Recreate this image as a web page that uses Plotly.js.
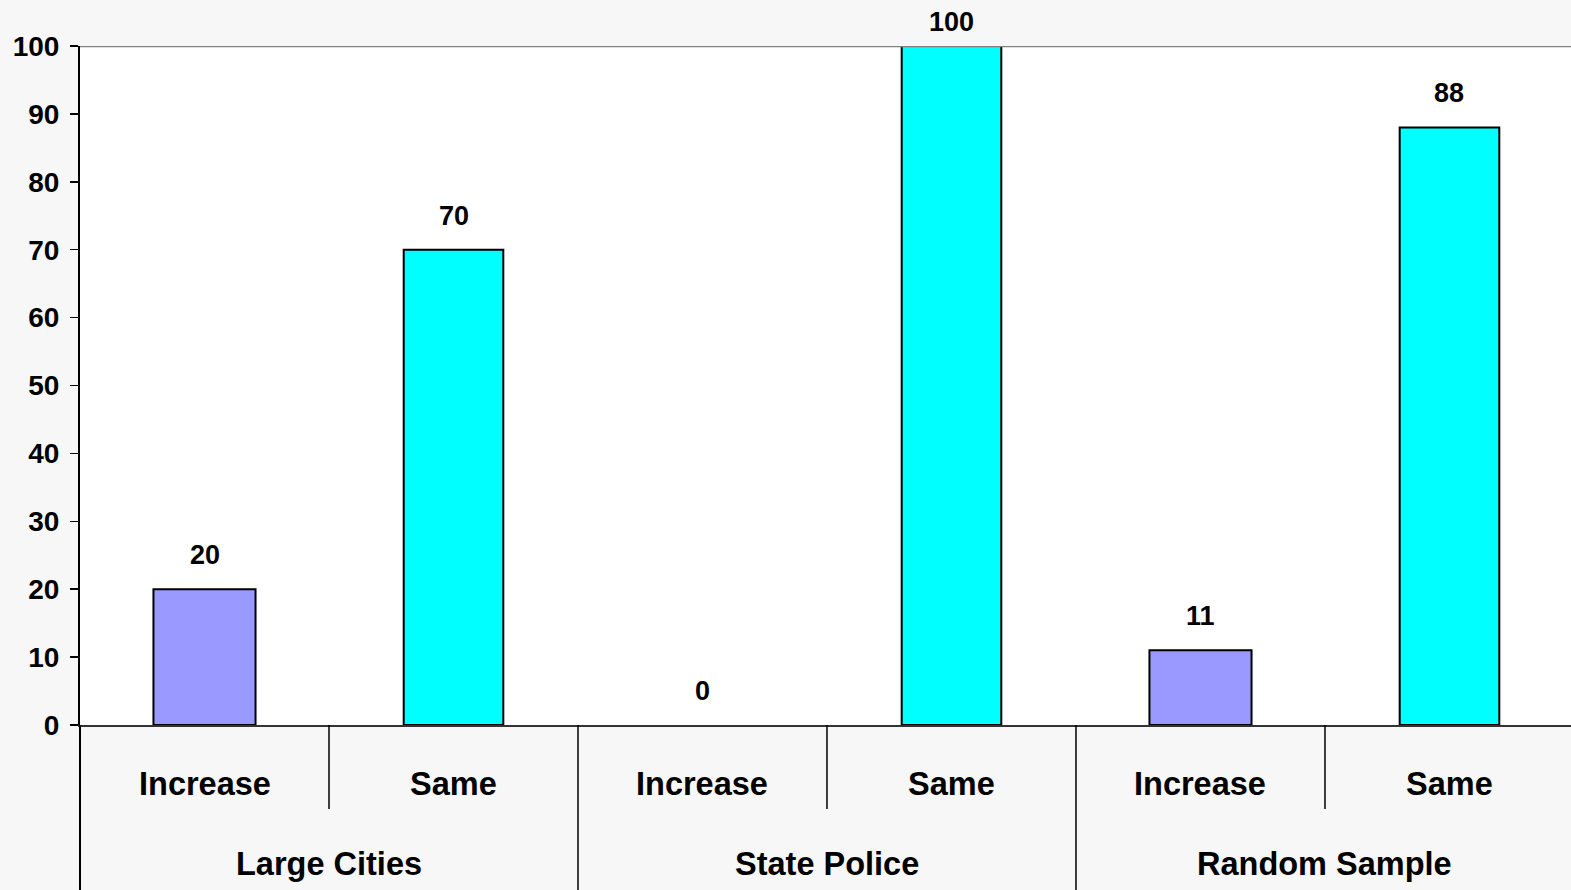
<!DOCTYPE html>
<html>
<head>
<meta charset="utf-8">
<script src="https://cdn.plot.ly/plotly-3.0.1.min.js"></script>
<style>html,body{margin:0;padding:0;background:#f7f7f7;}#chart{width:1571px;height:890px;}</style>
</head>
<body>
<div id="chart"></div>
<script>
const groups = ["Large Cities", "State Police", "Random Sample"];
const subLabels = ["Increase", "Same"];
const increaseValues = [20, 0, 11];
const sameValues = [70, 100, 88];
const yTicks = [0, 10, 20, 30, 40, 50, 60, 70, 80, 90, 100];

const FONT = "'Liberation Sans', Arial, sans-serif";

const incX = groups.map((g, i) => i * 2);
const sameX = groups.map((g, i) => i * 2 + 1);

const traces = [
  {
    type: 'bar', x: incX, y: increaseValues, width: 0.41,
    marker: {color: '#9999ff', line: {color: '#000000', width: increaseValues.map(v => v === 0 ? 0 : 2)}},
    hoverinfo: 'y', showlegend: false
  },
  {
    type: 'bar', x: sameX, y: sameValues, width: 0.4,
    marker: {color: '#00ffff', line: {color: '#000000', width: sameValues.map(v => v === 0 ? 0 : 2)}},
    hoverinfo: 'y', showlegend: false
  }
];

const annotations = [];
const allX = incX.concat(sameX);
const allY = increaseValues.concat(sameValues);
allX.forEach((x, k) => {
  const v = allY[k];
  annotations.push({
    x: x, y: v, xref: 'x', yref: 'y', text: String(v), showarrow: false,
    yanchor: 'middle', yshift: v >= 100 ? 24 : 34,
    font: {family: FONT, size: 27, color: '#000', weight: 'bold'}
  });
});
groups.forEach((g, i) => {
  subLabels.forEach((s, j) => {
    annotations.push({
      x: i * 2 + j, y: 0, xref: 'x', yref: 'paper', text: s, showarrow: false,
      yanchor: 'middle', yshift: -59,
      font: {family: FONT, size: 32.5, color: '#000', weight: 'bold'}
    });
  });
  annotations.push({
    x: i * 2 + 0.5, y: 0, xref: 'x', yref: 'paper', text: g, showarrow: false,
    yanchor: 'middle', yshift: -139,
    font: {family: FONT, size: 32.5, color: '#000', weight: 'bold'}
  });
});

const shapes = [
  {type: 'line', xref: 'paper', yref: 'y', x0: 0, x1: 1, y0: 100, y1: 100,
   line: {color: '#808080', width: 2.5}}
];
groups.forEach((g, i) => {
  shapes.push({type: 'line', xref: 'x', yref: 'paper', x0: i * 2 + 0.5, x1: i * 2 + 0.5,
    y0: 0, y1: -84 / 679, line: {color: '#000', width: 1.5}});
});
for (let i = 1; i < groups.length; i++) {
  const xv = i * 2 - 0.5;
  shapes.push({type: 'line', xref: 'x', yref: 'paper', x0: xv, x1: xv,
    y0: 0, y1: -165 / 679, line: {color: '#000', width: 1.5}});
}
// left axis extension down through the label area
shapes.push({type: 'line', xref: 'paper', yref: 'paper', x0: 0, x1: 0,
  y0: 0, y1: -165 / 679, xshift: 0, line: {color: '#000', width: 2}});

const layout = {
  width: 1571, height: 890,
  margin: {l: 80, r: 0, t: 46, b: 165, pad: 0},
  paper_bgcolor: '#f7f7f7', plot_bgcolor: '#ffffff',
  xaxis: {
    type: 'linear', range: [-0.5, 5.488], showticklabels: false, ticks: '',
    showgrid: false, zeroline: false, showline: true, linecolor: '#333333', linewidth: 2,
    fixedrange: true
  },
  yaxis: {
    range: [0, 100], tickvals: yTicks, ticktext: yTicks.map(String),
    ticks: 'outside', ticklen: 8, tickwidth: 1.5, tickcolor: '#000',
    showline: true, linecolor: '#000', linewidth: 2,
    showgrid: false, zeroline: false,
    tickfont: {family: FONT, size: 28, color: '#000', weight: 'bold'},
    ticklabelstandoff: 5, fixedrange: true
  },
  annotations: annotations,
  shapes: shapes,
  showlegend: false
};

Plotly.newPlot('chart', traces, layout, {displayModeBar: false, staticPlot: true});
</script>
</body>
</html>
